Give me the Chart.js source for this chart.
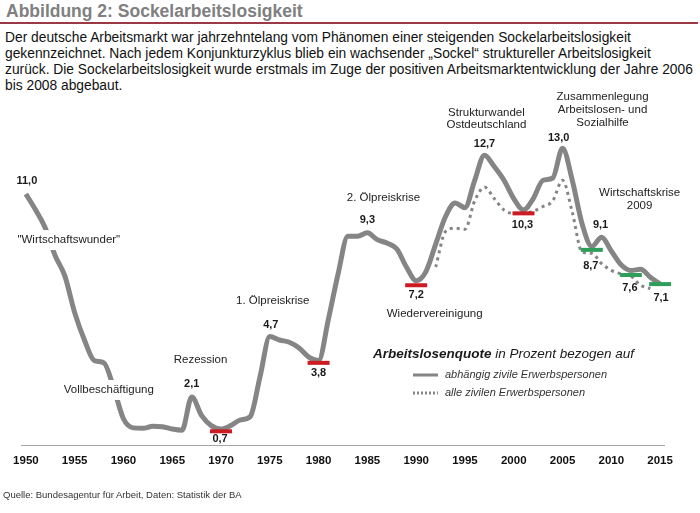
<!DOCTYPE html>
<html>
<head>
<meta charset="utf-8">
<script src="https://cdn.jsdelivr.net/npm/chart.js@4.4.0/dist/chart.umd.min.js"></script>
<style>
body{margin:0;background:#fff;font-family:"Liberation Sans",Arial,sans-serif}
#page{position:relative;width:700px;height:513px;overflow:hidden;background:#fff}
.title{position:absolute;left:6px;top:1px;font-weight:bold;font-size:17.5px;color:#808080;white-space:nowrap}
.rule{position:absolute;left:0;top:22px;width:698px;height:2px;background:#9b3a45}
.intro{position:absolute;left:5px;top:30px;width:695px;font-size:13.8px;line-height:16px;color:#111;white-space:nowrap}
.source{position:absolute;left:3px;top:489px;font-size:9.5px;color:#333;white-space:nowrap}
#chart{position:absolute;left:0;top:0}
</style>
</head>
<body>
<div id="page">
  <div class="title">Abbildung 2: Sockelarbeitslosigkeit</div>
  <div class="rule"></div>
  <div class="intro">Der deutsche Arbeitsmarkt war jahrzehntelang vom Phänomen einer steigenden Sockelarbeitslosigkeit<br>gekennzeichnet. Nach jedem Konjunkturzyklus blieb ein wachsender „Sockel“ struktureller Arbeitslosigkeit<br>zurück. Die Sockelarbeitslosigkeit wurde erstmals im Zuge der positiven Arbeitsmarktentwicklung der Jahre 2006<br>bis 2008 abgebaut.</div>
  <canvas id="chart" width="700" height="513"></canvas>
  <div class="source">Quelle: Bundesagentur für Arbeit, Daten: Statistik der BA</div>
</div>
<script>
// Jahre und Quoten
const years=[1950,1951,1952,1953,1954,1955,1956,1957,1958,1959,
  1960,1961,1962,1963,1964,1965,1966,1967,1968,1969,
  1970,1971,1972,1973,1974,1975,1976,1977,1978,1979,
  1980,1981,1982,1983,1984,1985,1986,1987,1988,1989,
  1990,1991,1992,1993,1994,1995,1996,1997,1998,1999,
  2000,2001,2002,2003,2004,2005,2006,2007,2008,2009,
  2010,2011,2012,2013,2014,2015]

// abhängig zivile Erwerbspersonen
const abhaengig=[11.0,10.3,9.5,8.3,7.4,5.8,4.6,3.7,3.6,2.5,
  1.15,0.75,0.73,0.82,0.8,0.7,0.65,2.1,1.3,0.85,
  0.7,0.85,1.1,1.25,3.0,4.75,4.6,4.5,4.25,3.85,
  3.7,5.5,7.5,9.15,9.15,9.3,9.0,8.85,8.6,7.8,
  7.2,7.6,8.8,10.0,10.6,10.4,11.6,12.7,12.2,11.6,
  10.8,10.3,10.8,11.6,11.7,13.0,11.6,9.7,8.7,9.1,
  8.5,7.9,7.65,7.7,7.35,7.05]

// alle zivilen Erwerbspersonen (erst ab 1992)
const alleZivilen=[null,null,null,null,null,null,null,null,null,null,
  null,null,null,null,null,null,null,null,null,null,
  null,null,null,null,null,null,null,null,null,null,
  null,null,null,null,null,null,null,null,null,null,
  null,null,7.8,9.35,9.5,9.45,10.7,11.3,10.8,10.3,
  10.15,10.15,10.25,10.45,10.7,11.6,10.2,8.45,8.4,7.95,
  7.65,7.5,7.4,7.0,6.85,null]

// Sockel-Markierungen
const sockelYears=[1970,1980,1990,2001]
const sockelValues=[0.6,3.6,7.0,10.15]
const abbauYears=[2008,2012,2015]
const abbauValues=[8.55,7.45,7.05]

const tickYears=[1950,1955,1960,1965,1970,1975,1980,1985,1990,1995,2000,2005,2010,2015]

const FONT='"Liberation Sans", Arial, sans-serif'
const GRAY='#858585'

// Beschriftungen im Diagramm (x = Jahr, y = Quote)
const notes=[
  {t:'11,0',x:1950.1,y:11.57,b:true},
  {t:'"Wirtschaftswunder"',x:1954.4,y:8.98,mask:true},
  {t:'Vollbeschäftigung',x:1958.5,y:2.41,mask:true},
  {t:'Rezession',x:1967.9,y:3.72},
  {t:'2,1',x:1967.0,y:2.67,b:true},
  {t:'0,7',x:1969.9,y:0.26,b:true},
  {t:'1. Ölpreiskrise',x:1975.3,y:6.31},
  {t:'4,7',x:1975.1,y:5.26,b:true},
  {t:'3,8',x:1980.0,y:3.16,b:true},
  {t:'2. Ölpreiskrise',x:1986.65,y:10.82},
  {t:'9,3',x:1985.0,y:9.86,b:true},
  {t:'7,2',x:1990.0,y:6.57,b:true},
  {t:'Wiedervereinigung',x:1991.9,y:5.74},
  {t:'Strukturwandel',x:1997.2,y:14.55},
  {t:'Ostdeutschland',x:1997.2,y:14.02},
  {t:'12,7',x:1997.0,y:13.19,b:true},
  {t:'Zusammenlegung',x:2009.1,y:15.25},
  {t:'Arbeitslosen- und',x:2009.1,y:14.68},
  {t:'Sozialhilfe',x:2009.1,y:14.11},
  {t:'13,0',x:2004.6,y:13.45,b:true},
  {t:'10,3',x:2000.9,y:9.62,b:true},
  {t:'Wirtschaftskrise',x:2012.9,y:11.04},
  {t:'2009',x:2012.9,y:10.47},
  {t:'9,1',x:2008.9,y:9.64,b:true},
  {t:'8,7',x:2007.9,y:7.85,b:true},
  {t:'7,6',x:2011.9,y:6.88,b:true},
  {t:'7,1',x:2015.1,y:6.44,b:true}
]

const notesPlugin={
  id:'notes',
  afterDatasetsDraw(chart){
    const ctx=chart.ctx
    const sx=chart.scales.x, sy=chart.scales.y
    ctx.save()
    ctx.textAlign='center'
    ctx.textBaseline='middle'
    notes.forEach(n=>{
      const px=sx.getPixelForValue(n.x), py=sy.getPixelForValue(n.y)
      ctx.font=(n.b?'bold 11px ':'11.5px ')+FONT
      if(n.mask){
        const w=ctx.measureText(n.t).width
        ctx.fillStyle='#fff'
        ctx.fillRect(px-w/2-3,py-10,w+6,20)
      }
      ctx.fillStyle=n.b?'#1a1a1a':'#222'
      ctx.fillText(n.t,px,py)
    })

    // Legende
    ctx.textAlign='left'
    ctx.fillStyle='#1a1a1a'
    ctx.font='italic bold 13.5px '+FONT
    ctx.fillText('Arbeitslosenquote',373,354)
    const w=ctx.measureText('Arbeitslosenquote').width
    ctx.font='italic 13.5px '+FONT
    ctx.fillText(' in Prozent bezogen auf',373+w,354)

    ctx.strokeStyle=GRAY
    ctx.lineWidth=3
    ctx.beginPath();ctx.moveTo(413,375);ctx.lineTo(438,375);ctx.stroke()
    ctx.setLineDash([2,2])
    ctx.beginPath();ctx.moveTo(413,393);ctx.lineTo(438,393);ctx.stroke()
    ctx.setLineDash([])
    ctx.fillStyle='#333'
    ctx.font='italic 11px '+FONT
    ctx.fillText('abhängig zivile Erwerbspersonen',445,375)
    ctx.fillText('alle zivilen Erwerbspersonen',445,393)
    ctx.restore()
  }
}

new Chart(document.getElementById('chart'),{
  type:'line',
  data:{
    datasets:[
      {
        label:'Sockel',
        data:sockelYears.map((y,i)=>({x:y,y:sockelValues[i]})),
        showLine:false,
        pointStyle:'line',
        pointRadius:11,
        pointHoverRadius:11,
        borderColor:'#cc1b22',
        borderWidth:4,
        clip:false
      },
      {
        label:'Abbau',
        data:abbauYears.map((y,i)=>({x:y,y:abbauValues[i]})),
        showLine:false,
        pointStyle:'line',
        pointRadius:11,
        pointHoverRadius:11,
        borderColor:'#2e9e5b',
        borderWidth:4,
        clip:false
      },
      {
        label:'abhängig zivile Erwerbspersonen',
        data:years.map((y,i)=>({x:y,y:abhaengig[i]})),
        borderColor:GRAY,
        borderWidth:5,
        pointRadius:0,
        cubicInterpolationMode:'monotone',
        clip:false
      },
      {
        label:'alle zivilen Erwerbspersonen',
        data:years.map((y,i)=>({x:y,y:alleZivilen[i]})),
        borderColor:GRAY,
        borderWidth:3,
        borderDash:[3,4],
        pointRadius:0,
        cubicInterpolationMode:'monotone',
        spanGaps:false,
        clip:false
      }
    ]
  },
  options:{
    responsive:false,
    animation:false,
    devicePixelRatio:1,
    layout:{padding:{left:21,right:36,top:125.5,bottom:38}},
    plugins:{legend:{display:false},tooltip:{enabled:false}},
    scales:{
      x:{
        type:'linear',
        min:1949.5,
        max:2015.4,
        grid:{display:false,drawTicks:false},
        border:{display:true,color:'#a6a6a6',width:1},
        afterBuildTicks:s=>{s.ticks=tickYears.map(v=>({value:v}))},
        afterFit:s=>{s.height=30},
        ticks:{
          padding:9,
          autoSkip:false,
          maxRotation:0,
          color:'#111',
          font:{family:FONT,size:11.5,weight:'bold'},
          callback:v=>String(v)
        }
      },
      y:{
        display:false,
        min:0,
        max:14
      }
    }
  },
  plugins:[notesPlugin]
})
</script>
</body>
</html>
